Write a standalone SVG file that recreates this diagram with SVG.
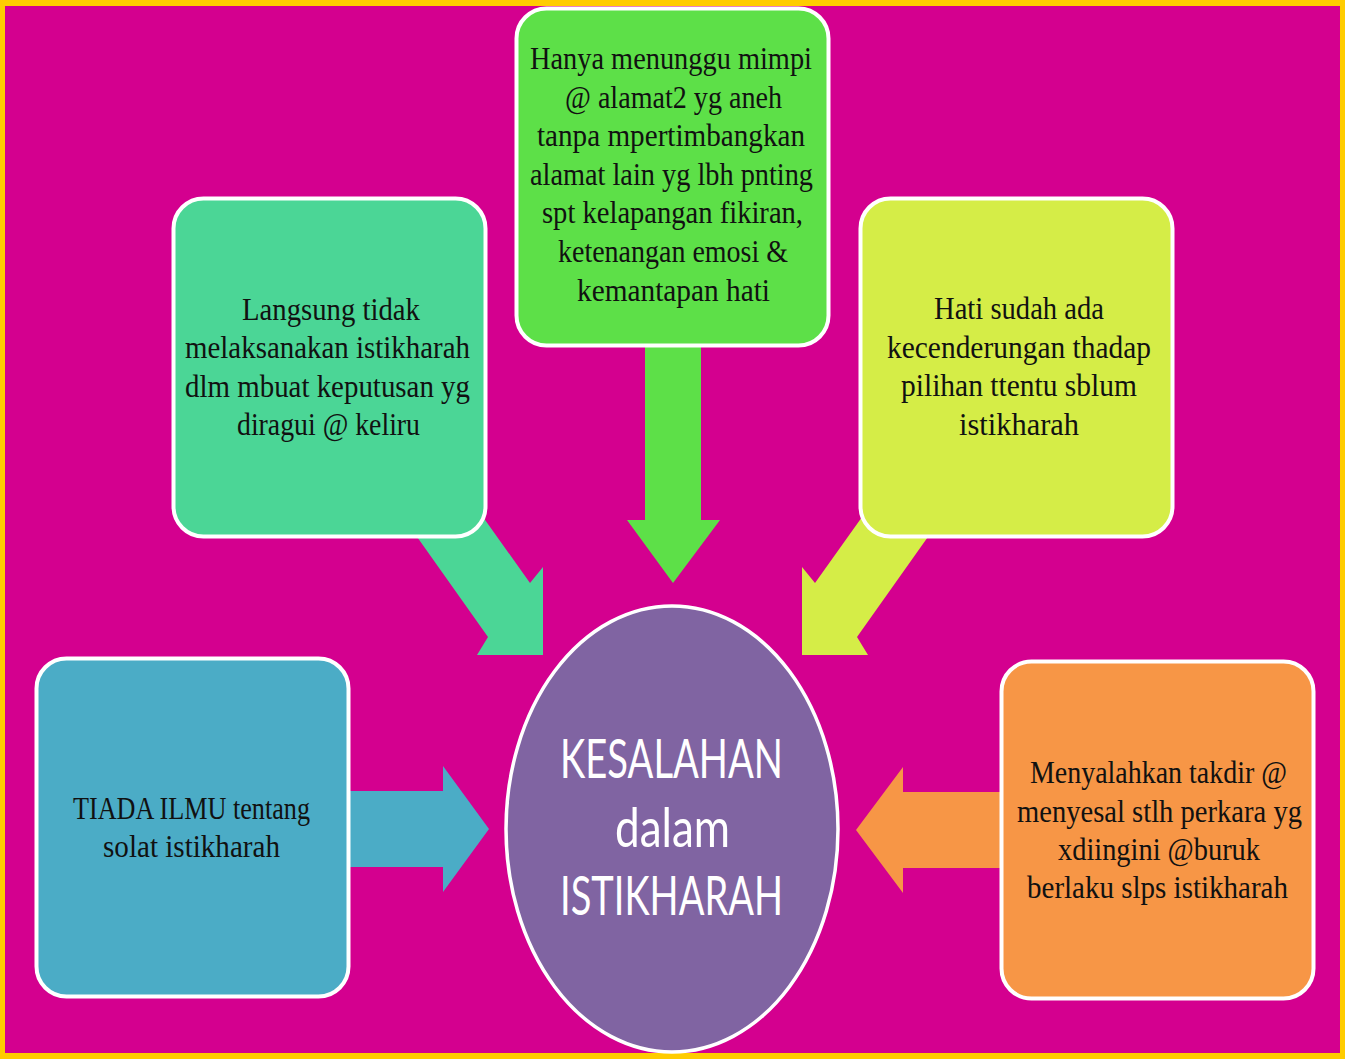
<svg xmlns="http://www.w3.org/2000/svg" width="1345" height="1059" viewBox="0 0 1345 1059">
<style>
.bt{font-family:"Liberation Serif","Times New Roman",serif;font-size:31px;fill:#111;text-anchor:middle}
.ct{font-family:Lato,"Liberation Sans",sans-serif;font-size:54px;fill:#fff;text-anchor:middle}
.box{stroke:#fff;stroke-width:4}
</style>
<rect x="0" y="0" width="1345" height="1059" fill="#FFCC00"/>
<rect x="5" y="6" width="1335" height="1047" fill="#D4008F"/>
<g id="connectors">
<polygon points="645,330 701,330 701,520 720,520 673,583 627,520 645,520" fill="#5DE048"/>
<polygon points="398,510 488,637 477,655 543,655 543,567 530,583 478,510" fill="#4BD696"/>
<polygon points="947,510 857,637 868,655 802,655 802,567 815,583 867,510" fill="#D5ED47"/>
<polygon points="340,791 443,791 443,766 489,829 443,892 443,867 340,867" fill="#4BACC6"/>
<polygon points="1010,792 903,792 903,767 856,830 903,893 903,868 1010,868" fill="#F79646"/>
</g>
<g id="box-langsung">
<rect class="box" x="173.5" y="198.5" width="312" height="338" rx="30" fill="#4BD696"/>
<text class="bt" x="331" y="320" textLength="178" lengthAdjust="spacingAndGlyphs">Langsung tidak</text>
<text class="bt" x="327.5" y="358" textLength="285" lengthAdjust="spacingAndGlyphs">melaksanakan istikharah</text>
<text class="bt" x="327.5" y="397" textLength="285" lengthAdjust="spacingAndGlyphs">dlm mbuat keputusan yg</text>
<text class="bt" x="328.5" y="435" textLength="183" lengthAdjust="spacingAndGlyphs">diragui @ keliru</text>
</g>
<g id="box-hanya">
<rect class="box" x="516.5" y="8.5" width="312" height="337" rx="30" fill="#5DE048"/>
<text class="bt" x="671" y="69" textLength="282" lengthAdjust="spacingAndGlyphs">Hanya menunggu mimpi</text>
<text class="bt" x="673.5" y="108" textLength="217" lengthAdjust="spacingAndGlyphs">@ alamat2 yg aneh</text>
<text class="bt" x="671" y="146" textLength="268" lengthAdjust="spacingAndGlyphs">tanpa mpertimbangkan</text>
<text class="bt" x="671.5" y="185" textLength="283" lengthAdjust="spacingAndGlyphs">alamat lain yg lbh pnting</text>
<text class="bt" x="672.5" y="223" textLength="261" lengthAdjust="spacingAndGlyphs">spt kelapangan fikiran,</text>
<text class="bt" x="673" y="262" textLength="230" lengthAdjust="spacingAndGlyphs">ketenangan emosi &amp;</text>
<text class="bt" x="673.5" y="301" textLength="193" lengthAdjust="spacingAndGlyphs">kemantapan hati</text>
</g>
<g id="box-hati">
<rect class="box" x="860.5" y="198.5" width="312" height="338" rx="30" fill="#D5ED47"/>
<text class="bt" x="1019" y="319" textLength="170" lengthAdjust="spacingAndGlyphs">Hati sudah ada</text>
<text class="bt" x="1019" y="358" textLength="264" lengthAdjust="spacingAndGlyphs">kecenderungan thadap</text>
<text class="bt" x="1019" y="396" textLength="236" lengthAdjust="spacingAndGlyphs">pilihan ttentu sblum</text>
<text class="bt" x="1019" y="435" textLength="120" lengthAdjust="spacingAndGlyphs">istikharah</text>
</g>
<g id="box-tiada">
<rect class="box" x="36.5" y="658.5" width="312" height="338" rx="30" fill="#4BACC6"/>
<text class="bt" x="191.5" y="819" textLength="237" lengthAdjust="spacingAndGlyphs">TIADA ILMU tentang</text>
<text class="bt" x="191.5" y="857" textLength="177" lengthAdjust="spacingAndGlyphs">solat istikharah</text>
</g>
<g id="box-menyalahkan">
<rect class="box" x="1001.5" y="661.5" width="312" height="337" rx="30" fill="#F79646"/>
<text class="bt" x="1158.5" y="783" textLength="257" lengthAdjust="spacingAndGlyphs">Menyalahkan takdir @</text>
<text class="bt" x="1159.5" y="822" textLength="285" lengthAdjust="spacingAndGlyphs">menyesal stlh perkara yg</text>
<text class="bt" x="1159" y="860" textLength="202" lengthAdjust="spacingAndGlyphs">xdiingini @buruk</text>
<text class="bt" x="1157.5" y="898" textLength="261" lengthAdjust="spacingAndGlyphs">berlaku slps istikharah</text>
</g>
<g id="center">
<ellipse cx="672" cy="829" rx="166" ry="223" fill="#8064A2" stroke="#fff" stroke-width="3.5"/>
<text class="ct" x="671.5" y="778" textLength="223" lengthAdjust="spacingAndGlyphs">KESALAHAN</text>
<text class="ct" x="672.5" y="847" textLength="115" lengthAdjust="spacingAndGlyphs">dalam</text>
<text class="ct" x="671.5" y="915" textLength="223" lengthAdjust="spacingAndGlyphs">ISTIKHARAH</text>
</g>
</svg>
